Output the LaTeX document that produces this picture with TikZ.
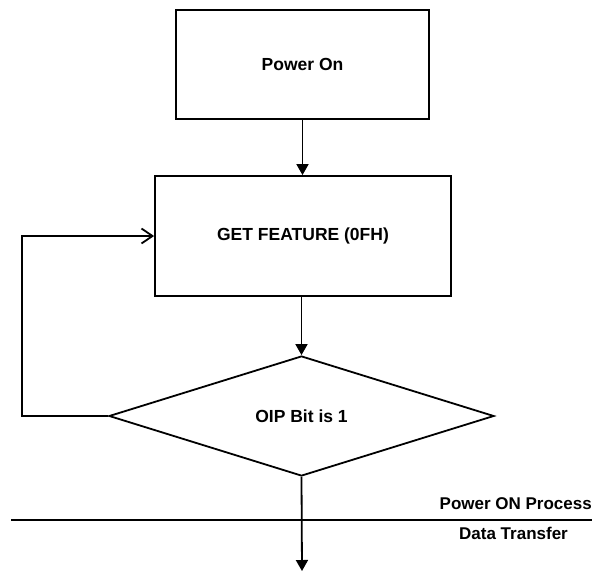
\documentclass[tikz,border=0pt]{standalone}
\usepackage{fontspec}
\setmainfont{Liberation Sans}
\usetikzlibrary{shapes.geometric,arrows.meta}
\tikzset{
  every node/.style={font=\fontsize{17.5}{20}\selectfont\bfseries},
  lbl/.style={font=\fontsize{17}{20}\selectfont\bfseries, inner sep=0pt},
  procbox/.style={draw, line width=1.8pt, rectangle, inner sep=0pt},
  decbox/.style={draw, line width=1.8pt, diamond, inner sep=0pt, aspect=3.2},
  flow/.style={line width=1.8pt, -{Triangle[length=11pt,width=12pt]}},
  loopflow/.style={line width=1.8pt, -{Straight Barb[length=11pt,width=15pt,line width=1.8pt]}},
  plain/.style={line width=1.8pt}
}
\begin{document}
\begin{tikzpicture}[x=1pt,y=1pt]
\useasboundingbox (0,0) rectangle (592,-571);
\node[procbox, minimum width=253pt, minimum height=109pt] (pon) at (302.5,-64.5) {Power On};
\node[procbox, minimum width=296pt, minimum height=120pt] (gf) at (303,-236) {GET FEATURE (0FH)};
\node[decbox, minimum width=385pt, minimum height=120pt] (dec) at (301.5,-416) {OIP Bit is 1};
\coordinate (lp) at (22,-416);
\coordinate (endpt) at (302,-571);
\coordinate (hl) at (11,-520);
\coordinate (hr) at (592,-520);
\draw[flow] (pon.south) -- (pon.south |- gf.north);
\draw[flow] (gf.south -| dec.north) -- (dec.north);
\draw[loopflow] (dec.west) -- (lp) |- (gf.west);
\draw[flow] (dec.south) -- (endpt);
\draw[plain] (hl) -- (hr);
\node[lbl, anchor=east] (pop) at (592,-504) {Power ON Process};
\node[lbl] (dt) at (513.5,-533.5) {Data Transfer};
\end{tikzpicture}
\end{document}
